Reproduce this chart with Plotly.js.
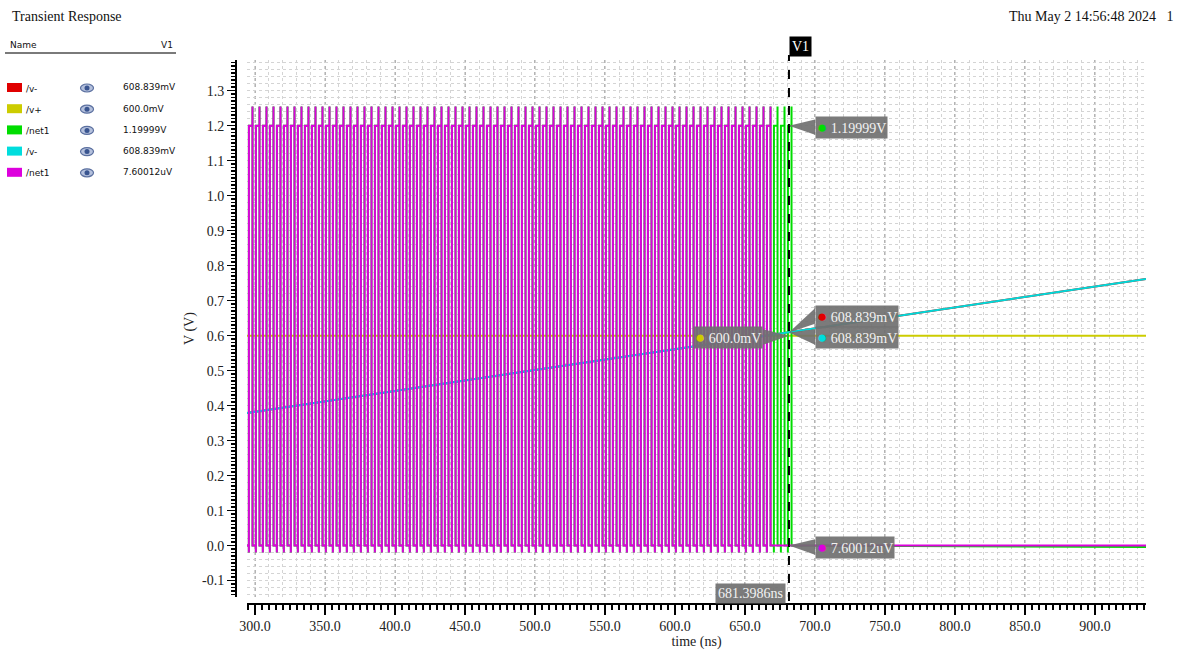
<!DOCTYPE html>
<html>
<head>
<meta charset="utf-8">
<script src="https://cdn.plot.ly/plotly-3.0.1.min.js"></script>
<style>html,body{margin:0;padding:0;background:#fff}#chart{width:1178px;height:652px}</style>
</head>
<body>
<div id="chart"></div>
<script>
// ---------- data ----------
const timeRange = [294.3, 936.4];          // ns
const voltRange = [-0.1469, 1.3877];       // V

const xTickVals = [300, 350, 400, 450, 500, 550, 600, 650, 700, 750, 800, 850, 900];
const xTickText = ['300.0','350.0','400.0','450.0','500.0','550.0','600.0','650.0','700.0','750.0','800.0','850.0','900.0'];
const yTickVals = [-0.1, 0.0, 0.1, 0.2, 0.3, 0.4, 0.5, 0.6, 0.7, 0.8, 0.9, 1.0, 1.1, 1.2, 1.3];
const yTickText = ['-0.1','0.0','0.1','0.2','0.3','0.4','0.5','0.6','0.7','0.8','0.9','1.0','1.1','1.2','1.3'];

// /v- (red and cyan, identical)
const vMinusT = [294.3, 681.3986, 936.4];
const vMinusV = [0.379, 0.608839, 0.762];
// /v+ (yellow)
const vPlusT = [294.3, 936.4];
const vPlusV = [0.6, 0.6];

// /net1 pulse rise times (ns)
const net1Rises = [295.6, 300.6, 305.6, 310.6, 315.6, 320.6, 325.6, 330.6, 335.6, 340.6,
  345.6, 350.6, 355.6, 360.6, 365.6, 370.6, 375.6, 380.6, 385.6, 390.6,
  395.6, 400.6, 405.6, 410.6, 415.6, 420.6, 425.6, 430.6, 435.6, 440.6,
  445.6, 450.6, 455.6, 460.6, 465.6, 470.6, 475.6, 480.6, 485.6, 490.6,
  495.6, 500.6, 505.6, 510.6, 515.6, 520.6, 525.6, 530.6, 535.6, 540.6,
  545.6, 550.6, 555.6, 560.6, 565.6, 570.6, 575.6, 580.6, 585.6, 590.6,
  595.6, 600.6, 605.6, 610.6, 615.6, 620.6, 625.6, 630.6, 635.6, 640.6,
  645.6, 650.6, 655.6, 660.6, 665.6];
const greenExtraRises = [670.6, 675.6, 680.6];
// shape of one pulse: offsets from the rise (ns) and levels (V)
const pulseDt = [0, 0.02, 0.06, 2.6, 2.62, 2.66];
const pulseV  = [0, -0.02, 1.2, 1.2, 1.255, 0];
const magentaEndLevel = 0.0000076;
const greenEndLevel = -0.004;

// legend table
const legendNames  = ['/v-', '/v+', '/net1', '/v-', '/net1'];
const legendColors = ['#e00000', '#cccc00', '#00dd00', '#00dddd', '#dd00dd'];
const legendValues = ['608.839mV', '600.0mV', '1.19999V', '608.839mV', '7.60012uV'];

// cursor V1
const cursorT = 681.3986;
const cursorLabel = '681.3986ns';
const markerColors = ['#00dd00', '#e00000', '#00dddd', '#cccc00', '#dd00dd'];
const markerValues = [1.19999, 0.608839, 0.608839, 0.6, 0.0000076];
const markerTexts  = ['1.19999V', '608.839mV', '608.839mV', '600.0mV', '7.60012uV'];

// ---------- layout helpers ----------
const W = 1178, H = 652;
const px = p => p / W;
const py = p => 1 - p / H;
const SERIF = 'Liberation Serif, Times New Roman, serif';
const SANS = 'DejaVu Sans, sans-serif';

function buildPulses(rises, endLevel) {
  const x = [timeRange[0]], y = [0];
  rises.forEach(r => {
    pulseDt.forEach((d, i) => { x.push(r + d); y.push(pulseV[i]); });
  });
  x.push(timeRange[1]); y.push(endLevel);
  return {x, y};
}
const magenta = buildPulses(net1Rises, magentaEndLevel);
const green = buildPulses(net1Rises.concat(greenExtraRises), greenEndLevel);

const traces = [
  {x: vMinusT, y: vMinusV, name: '/v-', mode: 'lines', line: {color: '#e00000', width: 2}},
  {x: vPlusT, y: vPlusV, name: '/v+', mode: 'lines', line: {color: '#cccc00', width: 2}},
  {x: green.x, y: green.y, name: '/net1', mode: 'lines', line: {color: '#00dd00', width: 2}},
  {x: vMinusT, y: vMinusV, name: '/v-', mode: 'lines', line: {color: '#00d8d8', width: 2}},
  {x: magenta.x, y: magenta.y, name: '/net1', mode: 'lines', line: {color: '#dd00dd', width: 2}},
  {x: [], y: [], xaxis: 'x2', yaxis: 'y2', mode: 'lines', showlegend: false}
];

const shapes = [];
const annotations = [];

// header
annotations.push({xref: 'paper', yref: 'paper', x: px(10), y: py(17), xanchor: 'left', yanchor: 'middle',
  text: 'Transient Response', showarrow: false, font: {family: SERIF, size: 14, color: '#111'}});
annotations.push({xref: 'paper', yref: 'paper', x: px(1176), y: py(17), xanchor: 'right', yanchor: 'middle',
  text: 'Thu May 2 14:56:48 2024&nbsp;&nbsp;&nbsp;1', showarrow: false, font: {family: SERIF, size: 14, color: '#111'}});

// legend table
annotations.push({xref: 'paper', yref: 'paper', x: px(8), y: py(45), xanchor: 'left', yanchor: 'middle',
  text: 'Name', showarrow: false, font: {family: SANS, size: 9, color: '#111'}});
annotations.push({xref: 'paper', yref: 'paper', x: px(175), y: py(45), xanchor: 'right', yanchor: 'middle',
  text: 'V1', showarrow: false, font: {family: SANS, size: 9, color: '#111'}});
shapes.push({type: 'line', xref: 'paper', yref: 'paper', x0: px(5), x1: px(176), y0: py(53), y1: py(53),
  line: {color: '#7a7a7a', width: 2}});
legendNames.forEach((n, i) => {
  const yc = 87.5 + i * 21.2;
  shapes.push({type: 'rect', xref: 'paper', yref: 'paper', x0: px(7), x1: px(22), y0: py(yc + 4.5), y1: py(yc - 4.5),
    fillcolor: legendColors[i], line: {width: 0}});
  annotations.push({xref: 'paper', yref: 'paper', x: px(24), y: py(yc + 1), xanchor: 'left', yanchor: 'middle',
    text: n, showarrow: false, font: {family: SANS, size: 9, color: '#111'}});
  shapes.push({type: 'circle', xref: 'paper', yref: 'paper', x0: px(80.5), x1: px(93.5), y0: py(yc + 4.5), y1: py(yc - 3.5),
    fillcolor: '#b4c0dc', line: {color: '#5a6f9f', width: 1.2}});
  shapes.push({type: 'circle', xref: 'paper', yref: 'paper', x0: px(84.5), x1: px(89.5), y0: py(yc + 3), y1: py(yc - 2),
    fillcolor: '#3a5590', line: {width: 0}});
  annotations.push({xref: 'paper', yref: 'paper', x: px(121), y: py(yc), xanchor: 'left', yanchor: 'middle',
    text: legendValues[i], showarrow: false, font: {family: SANS, size: 9, color: '#111'}});
});

// cursor line + labels
shapes.push({type: 'line', xref: 'x', yref: 'paper', x0: cursorT, x1: cursorT, y0: py(601), y1: py(55),
  line: {color: '#000', width: 2, dash: 'dash'}, layer: 'above'});
annotations.push({xref: 'x', yref: 'paper', x: cursorT, y: py(46), xanchor: 'left', yanchor: 'middle',
  text: 'V1', showarrow: false, bgcolor: '#000', borderpad: 2, font: {family: SERIF, size: 14, color: '#fff'}});
annotations.push({xref: 'x', yref: 'paper', x: cursorT, xshift: -3, y: py(593), xanchor: 'right', yanchor: 'middle',
  text: cursorLabel, showarrow: false, bgcolor: 'rgba(112,112,112,0.92)', borderpad: 2,
  font: {family: SERIF, size: 14, color: '#f2f2f2'}});

// value callouts: box x (ns), anchor, box centre y (V)
const boxX = [700, 700, 700, 662.9, 700];
const boxAnchor = ['left', 'left', 'left', 'right', 'left'];
const boxY = [1.196, 0.656, 0.596, 0.596, -0.004];
markerTexts.forEach((t, i) => {
  const half = 0.022;
  shapes.push({type: 'path', xref: 'x', yref: 'y', layer: 'above',
    path: `M ${cursorT},${markerValues[i]} L ${boxX[i]},${boxY[i] + half} L ${boxX[i]},${boxY[i] - half} Z`,
    fillcolor: 'rgba(112,112,112,0.92)', line: {width: 0}});
  annotations.push({xref: 'x', yref: 'y', x: boxX[i], y: boxY[i], xanchor: boxAnchor[i], yanchor: 'middle',
    text: `<span style="color:${markerColors[i]};font-size:17px">●</span> ${t}`, showarrow: false,
    bgcolor: 'rgba(112,112,112,0.92)', borderpad: 1, font: {family: SERIF, size: 14, color: '#f2f2f2'}});
});

const layout = {
  width: W, height: H,
  margin: {l: 0, r: 0, t: 0, b: 0},
  paper_bgcolor: '#fff', plot_bgcolor: '#fff',
  showlegend: false, hovermode: false,
  xaxis: {
    domain: [px(247), px(1146)], range: timeRange, anchor: 'free', position: py(603),
    showline: true, linecolor: '#000', linewidth: 1.5,
    tickmode: 'array', tickvals: xTickVals, ticktext: xTickText,
    ticks: 'outside', ticklen: 10, tickwidth: 1.5, tickcolor: '#000',
    tickfont: {family: SERIF, size: 14, color: '#222'},
    showgrid: true, gridcolor: '#b4b4b4', griddash: 'dot', gridwidth: 1.5, zeroline: false,
    minor: {tickmode: 'linear', tick0: 0, dtick: 5, ticks: 'outside', ticklen: 5, tickwidth: 1.5, tickcolor: '#000', showgrid: false},
    title: {text: 'time (ns)', font: {family: SERIF, size: 14, color: '#222'}, standoff: 0}
  },
  yaxis: {
    domain: [py(597), py(60)], range: voltRange, anchor: 'free', position: px(235),
    showline: true, linecolor: '#000', linewidth: 1.5,
    tickmode: 'array', tickvals: yTickVals, ticktext: yTickText,
    ticks: 'outside', ticklen: 8, tickwidth: 1.5, tickcolor: '#000',
    tickfont: {family: SERIF, size: 14, color: '#222'},
    showgrid: true, gridcolor: '#b4b4b4', griddash: 'dot', gridwidth: 1.5, zeroline: false,
    minor: {tickmode: 'linear', tick0: 0, dtick: 0.01, ticks: 'outside', ticklen: 4, tickwidth: 1.5, tickcolor: '#000', showgrid: false},
    title: {text: 'V (V)', font: {family: SERIF, size: 14, color: '#222'}, standoff: 2}
  },
  xaxis2: {overlaying: 'x', anchor: 'y2', range: timeRange, tickmode: 'linear', tick0: 0, dtick: 10,
    showticklabels: false, ticks: '', showline: false, zeroline: false,
    showgrid: true, gridcolor: '#d4d4d4', griddash: 'dot', gridwidth: 1},
  yaxis2: {overlaying: 'y', anchor: 'x2', range: voltRange, tickmode: 'linear', tick0: 0, dtick: 0.02,
    showticklabels: false, ticks: '', showline: false, zeroline: false,
    showgrid: true, gridcolor: '#d4d4d4', griddash: 'dot', gridwidth: 1},
  shapes: shapes,
  annotations: annotations
};

Plotly.newPlot('chart', traces, layout, {displayModeBar: false, staticPlot: true});
</script>
</body>
</html>
